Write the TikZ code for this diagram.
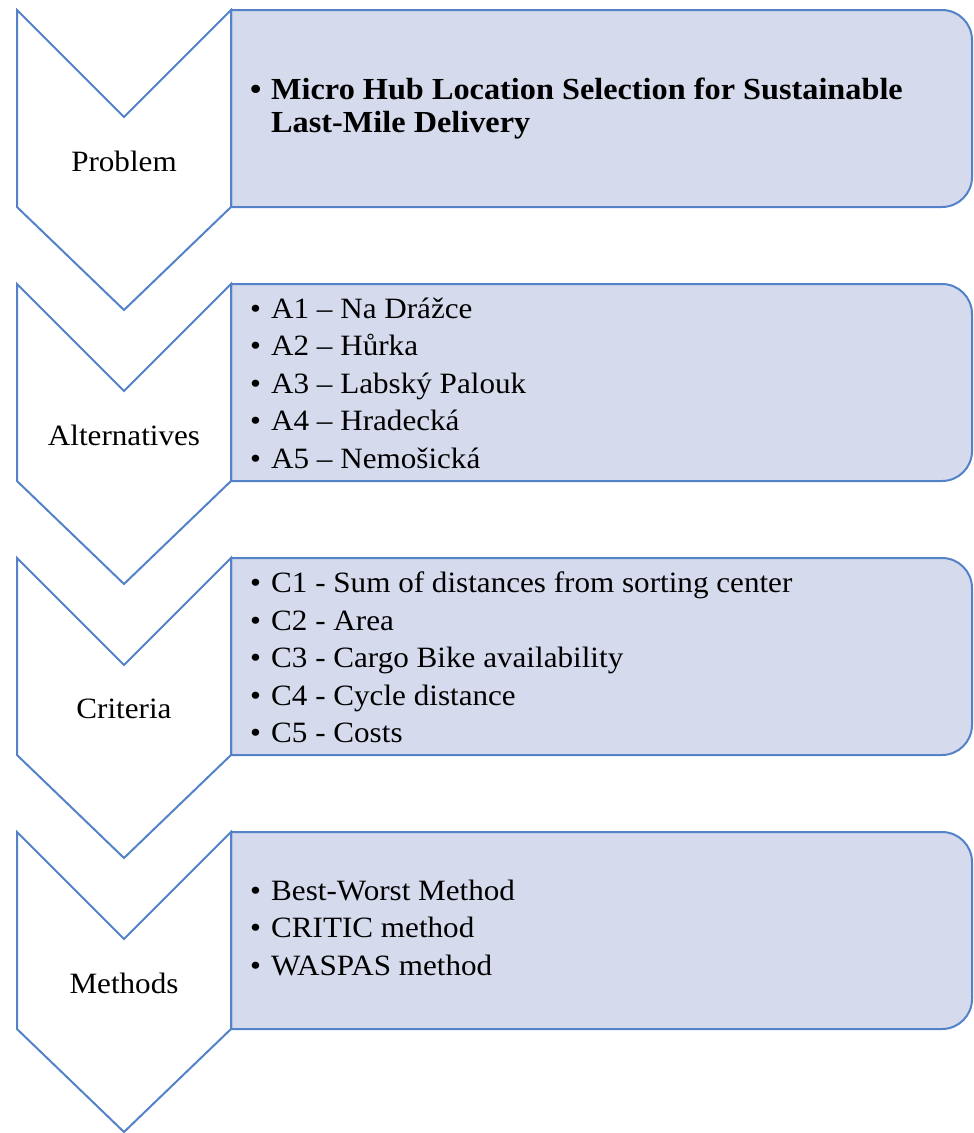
\documentclass[tikz,border=0pt]{standalone}
\usepackage{fontspec}
\setmainfont[FakeStretch=1.055]{Liberation Serif}
\usetikzlibrary{positioning}

\newcommand{\hubitem}[1]{\makebox[21pt][l]{\textbullet}#1}

\begin{document}
\begin{tikzpicture}[x=1pt,y=-1pt,
  chev/.style={draw=cline,fill=white,line width=2pt,line join=miter},
  hubbox/.style={draw=cline,fill=cfill,line width=2pt},
  steplabel/.style={font=\fontsize{29.5}{35}\selectfont,anchor=center},
  itemlist/.style={font=\fontsize{29.5}{37.5}\selectfont,align=left,anchor=west,inner sep=0pt}]
%
\useasboundingbox (0,0) rectangle (974,1133);
%
\definecolor{cline}{RGB}{84,130,200}
\definecolor{cfill}{RGB}{213,218,236}
%
\foreach \t/\lab/\nm in {10/Problem/problem,284/Alternatives/alternatives,558/Criteria/criteria,832/Methods/methods}{
  \draw[hubbox] (231,\t) -- (600,\t) [rounded corners=30pt] -- (972,\t) -- (972,\t+197) -- (600,\t+197) [sharp corners] -- (231,\t+197) -- cycle;
  \draw[chev] (17,\t) -- (124,\t+107) -- (231,\t) -- (231,\t+197) -- (124,\t+300) -- (17,\t+197) -- cycle;
  \node[steplabel] (l\nm) at (124,\t+151) {\lab};
}
%
\node[itemlist,font=\bfseries\fontsize{30.6}{33}\selectfont] (tproblem) at (250,108.5)
  {\hubitem{Micro Hub Location Selection for Sustainable}\\\hspace*{21pt}Last-Mile Delivery};
\node[itemlist] (talternatives) at (250,383)
  {\hubitem{A1 – Na Drážce}\\\hubitem{A2 – Hůrka}\\\hubitem{A3 – Labský Palouk}\\\hubitem{A4 – Hradecká}\\\hubitem{A5 – Nemošická}};
\node[itemlist] (tcriteria) at (250,657.5)
  {\hubitem{C1 - Sum of distances from sorting center}\\\hubitem{C2 - Area}\\\hubitem{C3 - Cargo Bike availability}\\\hubitem{C4 - Cycle distance}\\\hubitem{C5 - Costs}};
\node[itemlist] (tmethods) at (250,927.5)
  {\hubitem{Best-Worst Method}\\\hubitem{CRITIC method}\\\hubitem{WASPAS method}};
%
\end{tikzpicture}
\end{document}
